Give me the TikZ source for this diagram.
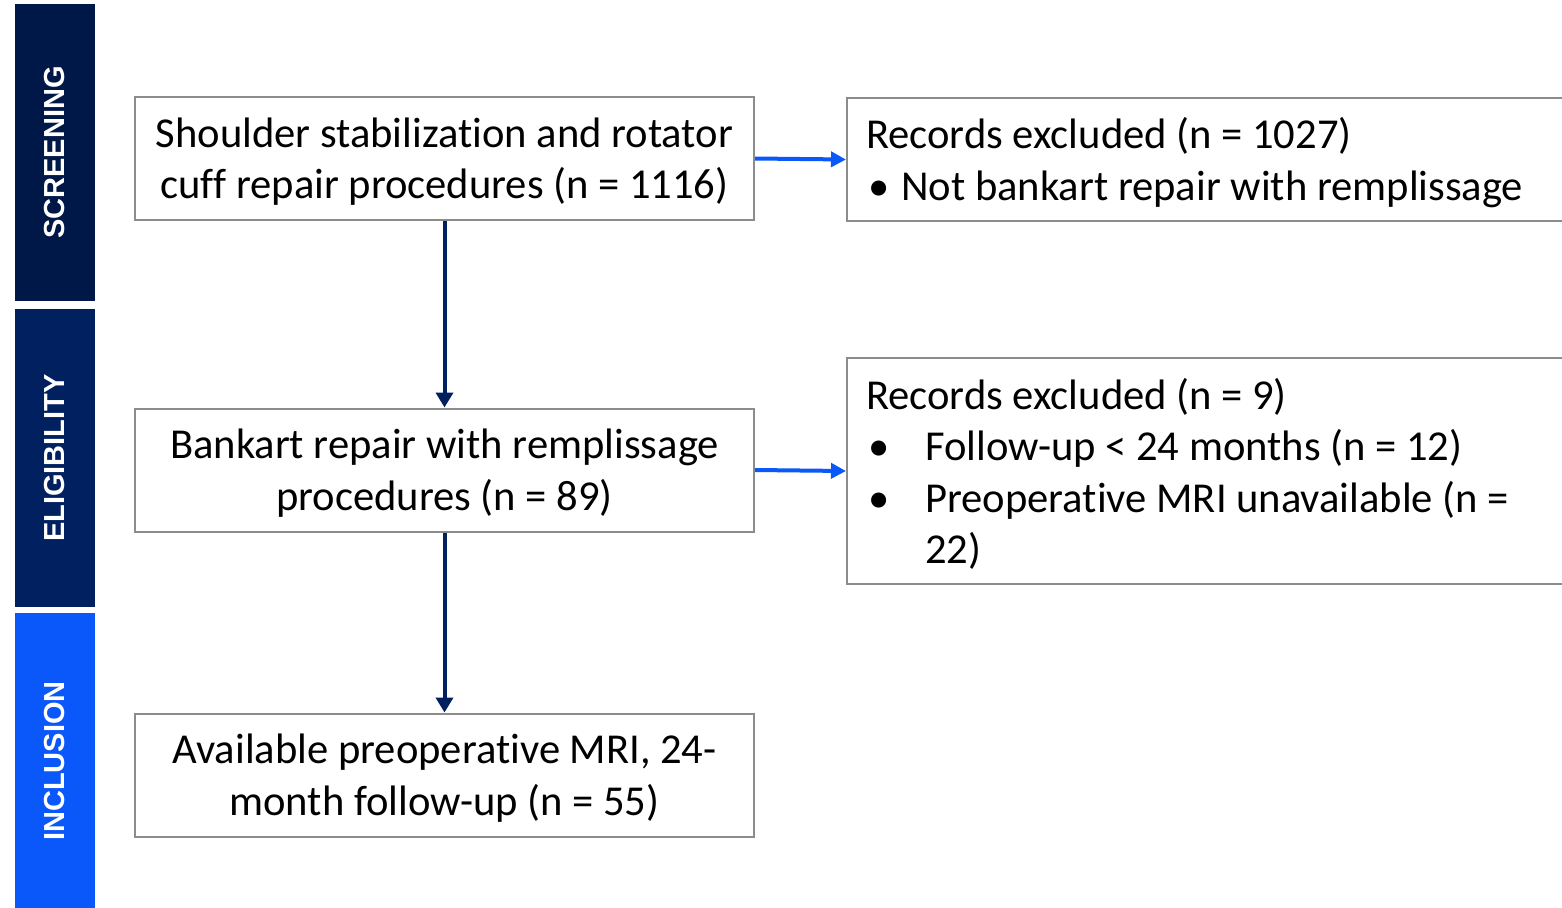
\documentclass[tikz,border=0pt]{standalone}
\usepackage{fontspec}
\setmainfont{Carlito}[Ligatures={NoCommon}]
\newfontfamily\barfont{Liberation Sans}
\usetikzlibrary{arrows.meta}
\definecolor{navyA}{RGB}{0,24,72}
\definecolor{navyB}{RGB}{0,32,96}
\definecolor{brightblue}{RGB}{10,87,250}
\definecolor{boxgray}{RGB}{140,140,140}
\begin{document}
\begin{tikzpicture}[x=1pt,y=-1pt,
  bar/.style={rotate=90,minimum height=80pt,inner sep=0pt,text=white,
    font=\barfont\bfseries\fontsize{29}{31}\selectfont},
  flowbox/.style={draw=boxgray,line width=2pt,minimum width=619pt,minimum height=123pt,inner sep=0pt},
  exclbox/.style={draw=boxgray,line width=2pt,anchor=west,minimum width=754pt,inner sep=0pt},
  boxtext/.style={inner sep=0pt,yshift=-3pt,align=center,font=\fontsize{42.6}{51.5}\selectfont},
  excltext/.style={inner sep=0pt,anchor=west,xshift=20pt,yshift=-3pt,align=flush left,
    font=\fontsize{42.6}{51.5}\selectfont},
  mainarrow/.style={draw=navyB,line width=4pt,-{Triangle[length=15pt,width=17pt]}},
  sidearrow/.style={draw=brightblue,line width=4pt,-{Triangle[length=15pt,width=15pt]}}]
\useasboundingbox (0,0) rectangle (1562,907);
\clip (0,0) rectangle (1562,907);
\fill[white] (0,0) rectangle (1562,907);
% side bars
\node[bar,fill=navyA,minimum width=297pt] (scr) at (55,152.5) {SCREENING};
\node[bar,fill=navyB,minimum width=298pt] (eli) at (55,458) {ELIGIBILITY};
\node[bar,fill=brightblue,minimum width=296pt] (inc) at (55,761) {INCLUSION};
% main boxes
\node[flowbox] (b1) at (444.5,158.5) {};
\node[boxtext] (t1) at (b1.center) {Shoulder stabilization and rotator\\cuff repair procedures (n = 1116)};
\node[flowbox] (b2) at (444.5,470) {};
\node[boxtext] (t2) at (b2.center) {Bankart repair with remplissage\\procedures (n = 89)};
\node[flowbox] (b3) at (444.5,775) {};
\node[boxtext] (t3) at (b3.center) {Available preoperative MRI, 24-\\month follow-up (n = 55)};
% exclusion boxes
\node[exclbox,minimum height=123pt] (e1) at (846,159.5) {};
\node[excltext] (u1) at (e1.west) {Records excluded (n = 1027)\\
\makebox[35pt][l]{\hspace{2pt}•}Not bankart repair with remplissage};
\node[exclbox,minimum height=226pt] (e2) at (846,471) {};
\node[excltext] (u2) at (e2.west) {Records excluded (n = 9)\\
\makebox[59pt][l]{\hspace{2pt}•}Follow-up < 24 months (n = 12)\\
\makebox[59pt][l]{\hspace{2pt}•}Preoperative MRI unavailable (n =\\
\hspace*{59pt}22)};
% connectors
\draw[mainarrow] (b1) -- (b2);
\draw[mainarrow] (b2) -- (b3);
\draw[sidearrow] (b1.east) -- (e1.west);
\draw[sidearrow] (b2.east) -- (e2.west);
\end{tikzpicture}
\end{document}
